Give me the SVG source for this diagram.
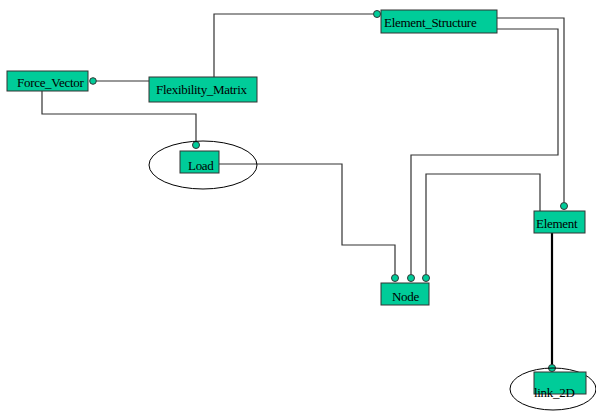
<svg xmlns="http://www.w3.org/2000/svg" width="596" height="411" viewBox="0 0 596 411">
<style>
.n{fill:#00cc99;stroke:#333;stroke-width:1}
.t{font-family:"Liberation Serif","Times New Roman",serif;font-size:13px;fill:#000;letter-spacing:-0.3px}
.c{fill:none;stroke:#333;stroke-width:1.2}
.k{fill:#00cc99;stroke:#333;stroke-width:1}
.e{fill:none;stroke:#000;stroke-width:1}
</style>
<rect width="596" height="411" fill="#fff"/>
<g id="connectors">
<polyline class="c" points="96,81 149,81"/>
<circle class="k" cx="93" cy="81" r="3.3"/>
<polyline class="c" points="214,77 214,14 373,14"/>
<circle class="k" cx="377" cy="14" r="3.5"/>
<polyline class="c" points="497,18 564,18 564,202"/>
<circle class="k" cx="564" cy="206" r="3.5"/>
<polyline class="c" points="497,29 558,29 558,155 411,155 411,274"/>
<circle class="k" cx="411" cy="278" r="3.5"/>
<polyline class="c" points="540,211 540,174 426,174 426,274"/>
<circle class="k" cx="426" cy="278" r="3.5"/>
<polyline class="c" points="219,164 342,164 342,245 395,245 395,274"/>
<circle class="k" cx="395" cy="278" r="3.5"/>
<polyline class="c" points="42,91 42,114 196,114 196,141"/>
<circle class="k" cx="196" cy="145" r="3.5"/>
<polyline class="c" points="552,233 552,365" style="stroke:#000;stroke-width:2.2"/>
<circle class="k" cx="552" cy="368" r="3.5"/>
</g>
<g id="Force_Vector"><rect class="n" x="7" y="71" width="81" height="20"/><text class="t" x="17" y="87">Force_Vector</text></g>
<g id="Flexibility_Matrix"><rect class="n" x="149" y="77" width="108" height="25"/><text class="t" x="156" y="94">Flexibility_Matrix</text></g>
<g id="Element_Structure"><rect class="n" x="381" y="10" width="116" height="23"/><text class="t" x="384" y="27">Element_Structure</text></g>
<g id="Load"><ellipse class="e" cx="203" cy="165" rx="54" ry="24"/><rect class="n" x="180" y="151" width="39" height="22"/><text class="t" x="188" y="170">Load</text></g>
<g id="Node"><rect class="n" x="381" y="283" width="48" height="22"/><text class="t" x="392" y="301">Node</text></g>
<g id="Element"><rect class="n" x="534" y="211" width="51" height="22"/><text class="t" x="536" y="228">Element</text></g>
<g id="link_2D"><ellipse class="e" cx="553" cy="389" rx="43" ry="21"/><rect class="n" x="534" y="372" width="52" height="22"/><text class="t" x="534" y="397">link_2D</text></g>
</svg>
